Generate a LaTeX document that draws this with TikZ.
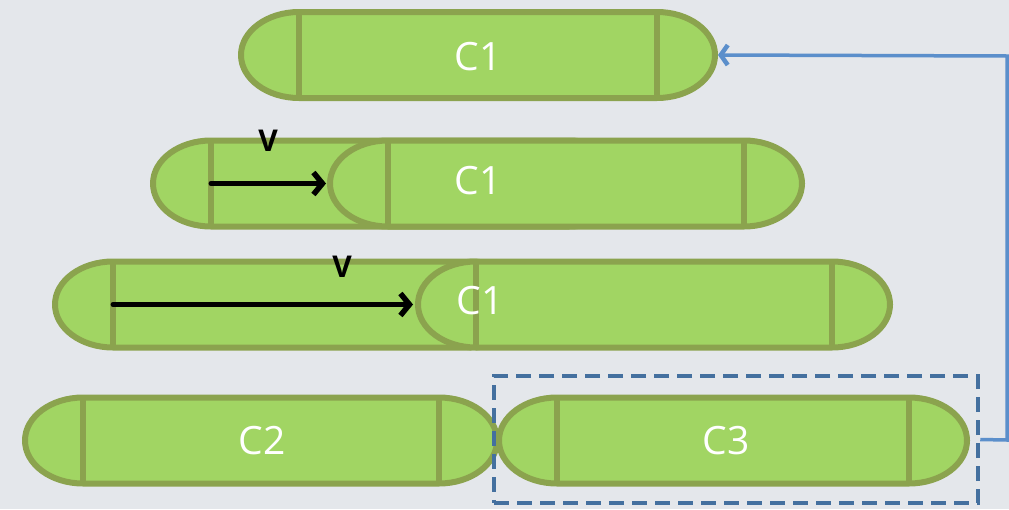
\documentclass[tikz,border=0pt]{standalone}
\usepackage{fontspec}
\setmainfont{Open Sans}
\usetikzlibrary{arrows.meta}
\definecolor{bg}{HTML}{E4E7EB}
\definecolor{capfill}{HTML}{A1D563}
\definecolor{capline}{HTML}{8BA34E}
\definecolor{boxline}{HTML}{44709F}
\definecolor{linkline}{HTML}{5B8FCB}
\tikzset{
  capsule/.style={draw=capline, fill=capfill, line width=6pt, line join=round},
  capdiv/.style={draw=capline, line width=6pt},
  lbl/.style={text=white, font=\fontsize{39}{41}\selectfont, inner sep=0pt},
  vlbl/.style={text=black, font=\bfseries\fontsize{30}{32}\selectfont, inner sep=0pt},
  move/.style={draw=black, line width=5pt, line cap=round, -{Straight Barb[length=9pt,width=22pt,line width=5.5pt]}},
  selbox/.style={draw=boxline, line width=4.5pt, dash pattern=on 15pt off 8pt},
  link/.style={draw=linkline, line width=3.5pt, -{Straight Barb[length=7pt,width=20pt,line width=4.5pt]}}
}
% name, left x, right x, centre y
\newcommand\pill[4]{%
  \path[capsule] (#2+58,#4-43) -- (#3-58,#4-43)
    arc[start angle=90,end angle=-90,x radius=58pt,y radius=43pt]
    -- (#2+58,#4+43)
    arc[start angle=270,end angle=90,x radius=58pt,y radius=43pt] -- cycle;
  \draw[capdiv] (#2+58,#4-43) -- (#2+58,#4+43);
  \draw[capdiv] (#3-58,#4-43) -- (#3-58,#4+43);
  \coordinate (#1-w) at (#2,#4);
  \coordinate (#1-e) at (#3,#4);
  \coordinate (#1-wi) at (#2+58,#4);
}
\begin{document}
\begin{tikzpicture}[x=1pt,y=-1pt]
\fill[bg] (0,0) rectangle (1009,509);
\useasboundingbox (0,0) rectangle (1009,509);
% row 1
\pill{top}{241}{715}{55}
\node[lbl] (t1) at (478,57) {C1};
% row 2
\pill{rb}{153}{627}{183.5}
\pill{rf}{330}{802}{183.5}
\node[lbl] (t2) at (478,181) {C1};
\draw[move] (rb-wi) -- ([xshift=-4pt]rf-w);
\node[vlbl] (v1) at (268,141) {V};
% row 3
\pill{sb}{55}{529}{304.5}
\pill{sf}{418}{890}{304.5}
\node[lbl] (t3) at (480,301) {C1};
\draw[move] (sb-wi) -- ([xshift=-5pt]sf-w);
\node[vlbl] (v2) at (342,267) {V};
% row 4
\pill{cb}{25}{497}{440.5}
\pill{cc}{499}{967}{440.5}
\node[lbl] (t4) at (262,441) {C2};
\node[lbl] (t5) at (726,441) {C3};
\node[selbox, minimum width=484pt, minimum height=127pt, inner sep=0pt] (sel) at (736,439.5) {};
\coordinate (turn1) at (1007,440);
\coordinate (turn2) at (1007,56);
\draw[link] (sel.east) -- (turn1) -- (turn2) -- ([xshift=3pt]top-e);
\end{tikzpicture}
\end{document}
